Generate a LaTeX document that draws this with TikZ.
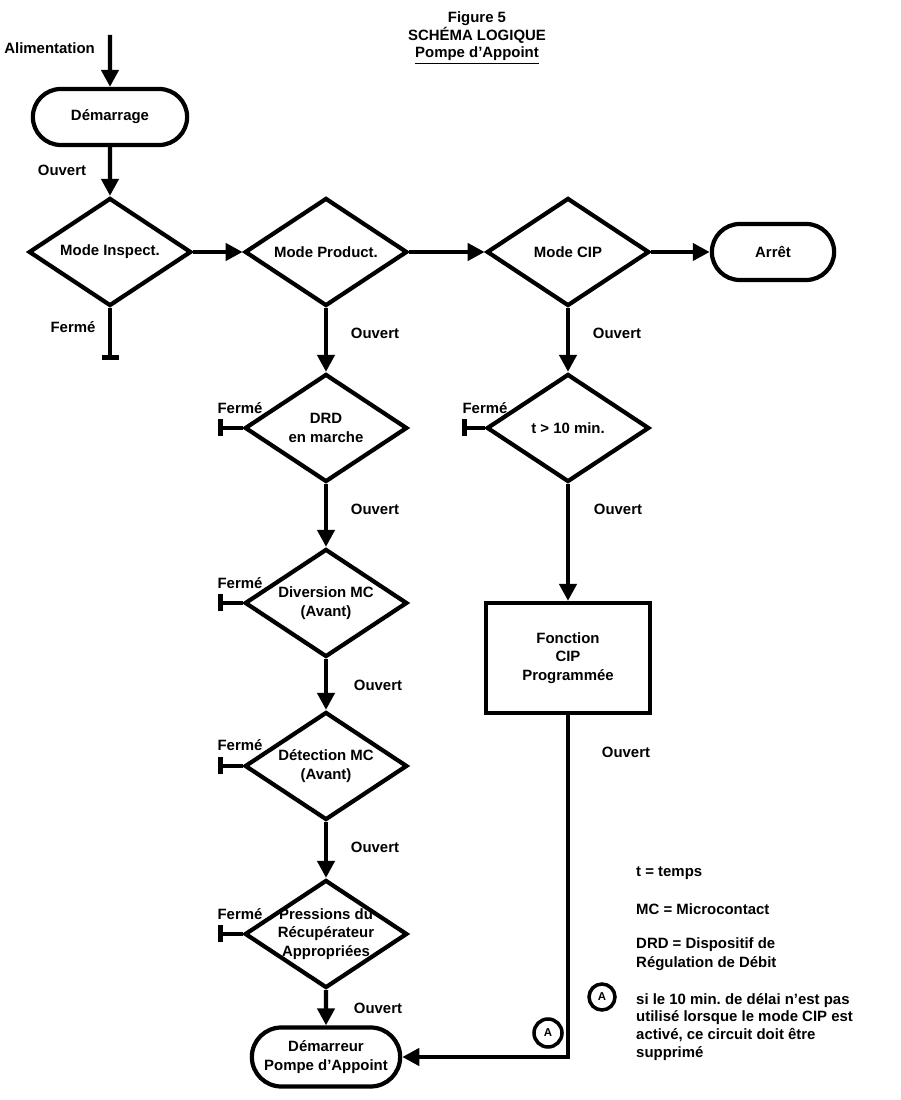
\documentclass[tikz,border=0pt]{standalone}
\usepackage{fontspec}
\setmainfont{Liberation Sans}
\usetikzlibrary{positioning,shapes.geometric,shapes.misc,arrows.meta}
\frenchspacing

\tikzset{
    every node/.style={font=\fontsize{8.5}{10.5}\selectfont\bfseries},
    flow/.style={line width=2.4pt,-{Triangle[width=0.34cm,length=0.34cm]}},
    stopline/.style={line width=2.4pt,-{Bar[width=0.34cm,line width=3pt]}},
    decision/.style={diamond,draw,line width=2.4pt,minimum width=3.25cm,minimum height=2.16cm,aspect=1.5,inner sep=-3pt,align=center},
    terminal/.style={rounded rectangle,draw,line width=2.4pt,minimum height=1.12cm,align=center},
    process/.style={rectangle,draw,line width=2.4pt,minimum width=3.28cm,minimum height=2.2cm,align=center},
    tag/.style={circle,draw,line width=2pt,inner sep=0pt,minimum size=0.56cm,font=\fontsize{6.5}{7}\selectfont\bfseries},
}

\begin{document}
\begin{tikzpicture}
    \useasboundingbox (0,0) rectangle (18,22);
    %% titre
    \node[align=center,font=\fontsize{8.5}{10}\selectfont\bfseries] (title) at (9.54,21.24) {Figure 5\\SCHÉMA LOGIQUE\\\underline{Pompe d’Appoint}};
    %% colonne de gauche
    \coordinate (feed) at (2.2,21.3);
    \node[anchor=east] (alim) at (2.02,21.04) {Alimentation};
    \node[terminal,minimum width=3.32cm] (start) at (2.2,19.66) {Démarrage};
    \node (o1) at (1.24,18.6) {Ouvert};
    \node[decision] (insp) at (2.2,16.96) {Mode Inspect.};
    \node (f1) at (1.46,15.46) {Fermé};
    \coordinate (inspend) at (2.2,14.8);
    %% ligne des modes
    \node[decision] (prod) at (6.52,16.96) {Mode Product.};
    \node[decision] (cip) at (11.36,16.96) {Mode CIP};
    \node[terminal,minimum width=2.68cm] (stop) at (15.46,16.96) {Arrêt};
    %% branche production
    \node (o2) at (7.5,15.34) {Ouvert};
    \node[decision] (drd) at (6.52,13.44) {DRD\\en marche};
    \node (f2) at (4.8,13.84) {Fermé};
    \coordinate (drdend) at (4.36,13.44);
    \node (o3) at (7.5,11.82) {Ouvert};
    \node[decision] (div) at (6.52,9.94) {Diversion MC\\(Avant)};
    \node (f3) at (4.8,10.34) {Fermé};
    \coordinate (divend) at (4.36,9.94);
    \node (o4) at (7.56,8.3) {Ouvert};
    \node[decision] (det) at (6.52,6.68) {Détection MC\\(Avant)};
    \node (f4) at (4.8,7.1) {Fermé};
    \coordinate (detend) at (4.36,6.68);
    \node (o5) at (7.5,5.06) {Ouvert};
    \node[decision] (pres) at (6.52,3.32) {Pressions du\\Récupérateur\\Appropriées};
    \node (f5) at (4.8,3.72) {Fermé};
    \coordinate (presend) at (4.36,3.32);
    \node (o6) at (7.56,1.84) {Ouvert};
    \node[terminal,minimum width=3.2cm,minimum height=1.18cm] (pump) at (6.52,0.86) {Démarreur\\Pompe d’Appoint};
    %% branche CIP
    \node (o7) at (12.34,15.34) {Ouvert};
    \node[decision] (tmin) at (11.36,13.44) {t > 10 min.};
    \node (f6) at (9.7,13.84) {Fermé};
    \coordinate (tminend) at (9.24,13.44);
    \node (o8) at (12.36,11.82) {Ouvert};
    \node[process] (prog) at (11.36,8.84) {Fonction\\CIP\\Programmée};
    \node (o9) at (12.52,6.96) {Ouvert};
    \node[tag] (a1) at (10.96,1.34) {A};
    %% légende
    \node[anchor=west] (l1) at (12.6,4.54) {t = temps};
    \node[anchor=west] (l2) at (12.6,3.82) {MC = Microcontact};
    \node[anchor=west,align=left] (l3) at (12.6,2.92) {DRD = Dispositif de\\Régulation de Débit};
    \node[tag,minimum size=0.52cm] (a2) at (12.04,2.06) {A};
    \node[anchor=west,align=left,font=\fontsize{8.5}{10.2}\selectfont\bfseries] (l4) at (12.6,1.46) {si le 10 min. de délai n’est pas\\utilisé lorsque le mode CIP est\\activé, ce circuit doit être\\supprimé};
    % liaisons
    \draw[flow] (feed) -- (start);
    \draw[flow] (start) -- (insp);
    \draw[stopline] (insp) -- (inspend);
    \draw[flow] (insp) -- (prod);
    \draw[flow] (prod) -- (cip);
    \draw[flow] (cip) -- (stop);
    \draw[flow] (prod) -- (drd);
    \draw[stopline] (drd) -- (drdend);
    \draw[flow] (drd) -- (div);
    \draw[stopline] (div) -- (divend);
    \draw[flow] (div) -- (det);
    \draw[stopline] (det) -- (detend);
    \draw[flow] (det) -- (pres);
    \draw[stopline] (pres) -- (presend);
    \draw[flow] (pres) -- (pump);
    \draw[flow] (cip) -- (tmin);
    \draw[stopline] (tmin) -- (tminend);
    \draw[flow] (tmin) -- (prog);
    \draw[flow] (prog) |- (pump);
\end{tikzpicture}
\end{document}
